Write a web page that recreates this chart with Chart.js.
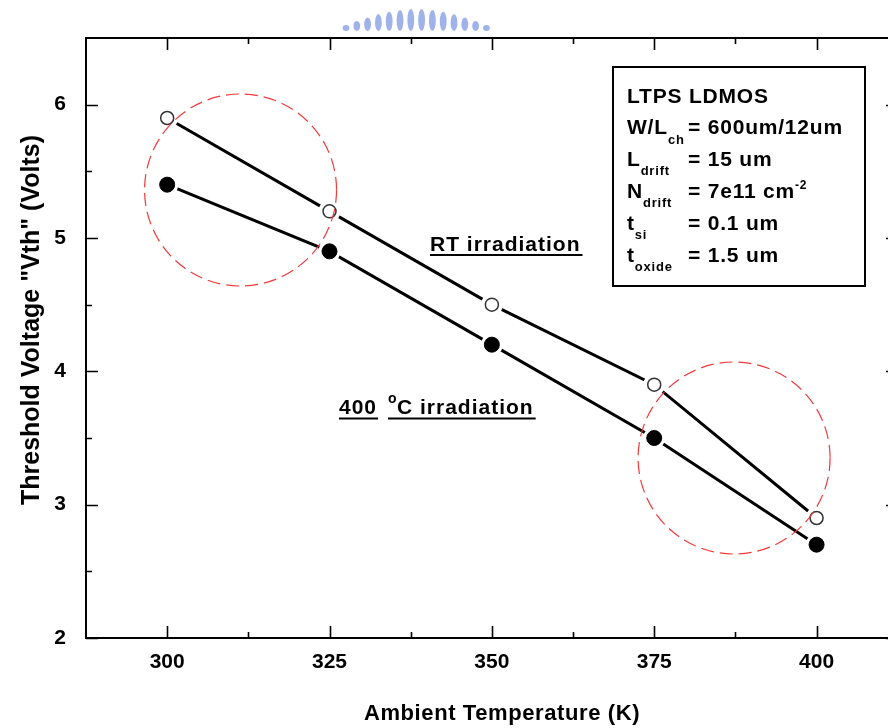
<!DOCTYPE html>
<html>
<head>
<meta charset="utf-8">
<script src="https://cdn.jsdelivr.net/npm/chart.js@4.4.1/dist/chart.umd.min.js"></script>
<style>
  html, body { margin: 0; padding: 0; background: #fff; overflow: hidden; width: 888px; height: 728px; }
  canvas { display: block; }
</style>
</head>
<body>
<canvas id="c" width="888" height="728"></canvas>
<script>
// Ambient temperature (K) and threshold voltage (V) for the two irradiation conditions
const temperatures = [300, 325, 350, 375, 400];
const vthRT = [5.9, 5.2, 4.5, 3.9, 2.9];
const vth400C = [5.4, 4.9, 4.2, 3.5, 2.7];

// Axis tick labels
const xTickValues = [300, 325, 350, 375, 400];
const yTickValues = [2, 3, 4, 5, 6];
const xMinorValues = [312.5, 337.5, 362.5, 387.5];
const yMinorValues = [2.5, 3.5, 4.5, 5.5];

// Highlighted regions (centre in K / V)
const highlightCenters = [[311.3, 5.36], [387.3, 3.35]];

const FONT = "'Liberation Sans', Arial, Helvetica, sans-serif";

const toPoints = ys => temperatures.map((t, i) => ({ x: t, y: ys[i] }));

// Frame with inward major/minor ticks; the right edge of the frame lies just past the page
const framePlugin = {
  id: 'frame',
  afterDraw(chart) {
    const { ctx, chartArea: a, scales: { x, y } } = chart;
    const rightEdge = a.right + 10;
    ctx.save();
    ctx.strokeStyle = '#000';
    ctx.lineWidth = 2;
    ctx.beginPath();
    ctx.moveTo(rightEdge, a.top); ctx.lineTo(a.left, a.top);
    ctx.lineTo(a.left, a.bottom); ctx.lineTo(rightEdge, a.bottom);
    ctx.stroke();
    ctx.lineWidth = 1.6;
    const major = 12, minor = 6;
    ctx.beginPath();
    const xt = (v, len) => {
      const px = Math.round(x.getPixelForValue(v)) + 0.5;
      ctx.moveTo(px, a.bottom); ctx.lineTo(px, a.bottom - len);
      ctx.moveTo(px, a.top); ctx.lineTo(px, a.top + len);
    };
    const yt = (v, len) => {
      const py = Math.round(y.getPixelForValue(v)) + 0.5;
      ctx.moveTo(a.left, py); ctx.lineTo(a.left + len, py);
      ctx.moveTo(rightEdge, py); ctx.lineTo(rightEdge - len, py);
    };
    xTickValues.forEach(v => xt(v, major));
    xMinorValues.forEach(v => xt(v, minor));
    yTickValues.forEach(v => yt(v, major));
    yMinorValues.forEach(v => yt(v, minor));
    ctx.stroke();
    ctx.restore();
  }
};

// Dashed red circles around the highlighted regions
const highlightPlugin = {
  id: 'highlight',
  afterDatasetsDraw(chart) {
    const { ctx, scales: { x, y } } = chart;
    ctx.save();
    ctx.strokeStyle = '#f03a3a';
    ctx.lineWidth = 1.2;
    ctx.setLineDash([13, 6]);
    highlightCenters.forEach(([cx, cy]) => {
      ctx.beginPath();
      ctx.arc(x.getPixelForValue(cx), y.getPixelForValue(cy), 96, 0, Math.PI * 2);
      ctx.stroke();
    });
    ctx.restore();
  }
};

function drawRuns(ctx, runs, x0, base) {
  let x = x0;
  runs.forEach(r => {
    if (r.at !== undefined) x = r.at;
    ctx.font = `bold ${r.size}px ${FONT}`;
    ctx.fillText(r.t, x, base + (r.dy || 0));
    x += ctx.measureText(r.t).width;
  });
}

// Texts: axis titles, series labels and the device parameter box
const textPlugin = {
  id: 'texts',
  afterDraw(chart) {
    const { ctx } = chart;
    ctx.save();
    ctx.fillStyle = '#000';
    ctx.textBaseline = 'alphabetic';
    const spacing = v => { if ('letterSpacing' in ctx) ctx.letterSpacing = v; };

    // axis titles
    spacing('0.6px');
    ctx.font = `bold 22px ${FONT}`;
    ctx.textAlign = 'center';
    ctx.fillText('Ambient Temperature (K)', 502, 720);
    spacing('0px');
    ctx.font = `bold 25px ${FONT}`;
    ctx.save();
    ctx.translate(39, 320);
    ctx.rotate(-Math.PI / 2);
    ctx.fillText('Threshold Voltage "Vth" (Volts)', 0, 0);
    ctx.restore();

    ctx.textAlign = 'left';
    spacing('1px');
    ctx.strokeStyle = '#000';
    ctx.lineWidth = 2;

    // series labels (underlined)
    ctx.font = `bold 21px ${FONT}`;
    const rt = 'RT irradiation';
    ctx.fillText(rt, 430, 251);
    let w = ctx.measureText(rt).width;
    ctx.beginPath(); ctx.moveTo(430, 255); ctx.lineTo(430 + w + 2, 255); ctx.stroke();

    ctx.fillText('400', 339, 414);
    w = ctx.measureText('400').width;
    ctx.beginPath(); ctx.moveTo(339, 418.5); ctx.lineTo(339 + w + 1, 418.5); ctx.stroke();
    ctx.font = `bold 14px ${FONT}`;
    ctx.fillText('o', 388, 403);
    ctx.font = `bold 21px ${FONT}`;
    const ci = 'C irradiation';
    ctx.fillText(ci, 397, 414);
    w = ctx.measureText(ci).width;
    ctx.beginPath(); ctx.moveTo(388, 418.5); ctx.lineTo(397 + w + 2, 418.5); ctx.stroke();

    // parameter box
    ctx.lineWidth = 2;
    ctx.strokeRect(613, 67, 252, 219);
    const L = 627, EQ = 688;
    spacing('0.8px');
    drawRuns(ctx, [{ t: 'LTPS LDMOS', size: 21 }], L, 103);
    drawRuns(ctx, [{ t: 'W/L', size: 21 }, { t: 'ch', size: 13, dy: 10 }, { t: '= 600um/12um', size: 21, at: EQ }], L, 134);
    drawRuns(ctx, [{ t: 'L', size: 21 }, { t: 'drift', size: 13, dy: 9 }, { t: '= 15 um', size: 21, at: EQ }], L, 166);
    drawRuns(ctx, [{ t: 'N', size: 21 }, { t: 'drift', size: 13, dy: 9 }, { t: '= 7e11 cm', size: 21, at: EQ }, { t: '-2', size: 12, dy: -9 }], L, 198);
    drawRuns(ctx, [{ t: 't', size: 21 }, { t: 'si', size: 13, dy: 9 }, { t: '= 0.1 um', size: 21, at: EQ }], L, 230);
    drawRuns(ctx, [{ t: 't', size: 21 }, { t: 'oxide', size: 13, dy: 9 }, { t: '= 1.5 um', size: 21, at: EQ }], L, 262);
    ctx.restore();
  }
};

// Faint logo mark above the frame
const logoPlugin = {
  id: 'logo',
  beforeDraw(chart) {
    const { ctx } = chart;
    ctx.save();
    ctx.fillStyle = 'rgba(120,145,225,0.7)';
    const n = 14;
    for (let i = 0; i < n; i++) {
      const cx = 346 + i * 10.8;
      const s = Math.sin(Math.PI * (i + 0.5) / n);
      const top = 27 - 18 * s;
      ctx.beginPath();
      ctx.ellipse(cx, (top + 31) / 2, 3.4, (31 - top) / 2, 0, 0, Math.PI * 2);
      ctx.fill();
    }
    ctx.restore();
  }
};

new Chart(document.getElementById('c'), {
  type: 'line',
  data: {
    datasets: [
      { label: 'RT irradiation', data: toPoints(vthRT), borderColor: '#000', borderWidth: 3, pointRadius: 0, tension: 0, order: 3 },
      { label: '400 °C irradiation', data: toPoints(vth400C), borderColor: '#000', borderWidth: 3, pointRadius: 0, tension: 0, order: 3 },
      { label: 'gap RT', data: toPoints(vthRT), showLine: false, pointRadius: 11, pointBorderWidth: 0, pointBackgroundColor: '#fff', order: 2 },
      { label: 'gap 400', data: toPoints(vth400C), showLine: false, pointRadius: 11, pointBorderWidth: 0, pointBackgroundColor: '#fff', order: 2 },
      { label: 'RT', data: toPoints(vthRT), showLine: false, pointRadius: 6.5, pointBorderWidth: 1.5, pointBorderColor: '#333', pointBackgroundColor: '#fff', order: 1 },
      { label: '400 °C', data: toPoints(vth400C), showLine: false, pointRadius: 7.5, pointBorderWidth: 1, pointBorderColor: '#000', pointBackgroundColor: '#000', order: 1 }
    ]
  },
  options: {
    responsive: false,
    animation: false,
    devicePixelRatio: 1,
    layout: { autoPadding: false, padding: { top: 38, left: 0, right: 0, bottom: 0 } },
    plugins: { legend: { display: false }, tooltip: { enabled: false } },
    scales: {
      x: {
        type: 'linear', min: 287.5, max: 411,
        afterFit(s) { s.height = 90; s.paddingLeft = 0; s.paddingRight = 0; },
        afterBuildTicks(s) { s.ticks = xTickValues.map(v => ({ value: v })); },
        grid: { display: false, drawTicks: false },
        border: { display: false },
        ticks: { color: '#000', padding: 12, font: { family: FONT, size: 21, weight: 'bold' }, callback: v => String(v) }
      },
      y: {
        type: 'linear', min: 2, max: 6.5,
        afterFit(s) { s.width = 86; s.paddingTop = 0; s.paddingBottom = 0; },
        afterBuildTicks(s) { s.ticks = yTickValues.map(v => ({ value: v })); },
        grid: { display: false, drawTicks: false },
        border: { display: false },
        ticks: { color: '#000', padding: 20, font: { family: FONT, size: 21, weight: 'bold' }, callback: v => String(v) }
      }
    }
  },
  plugins: [logoPlugin, framePlugin, highlightPlugin, textPlugin]
});
</script>
</body>
</html>
